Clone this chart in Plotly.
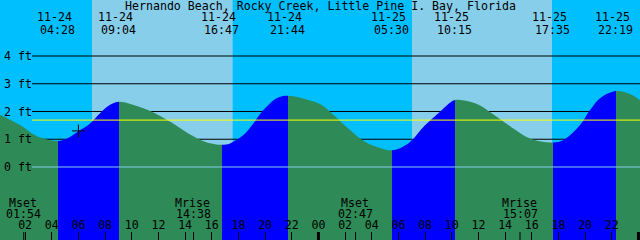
import pandas as pd
import plotly.graph_objects as go

title_text = "Hernando Beach, Rocky Creek, Little Pine I. Bay, Florida"

# Tide extremes
tide_times = ["2024-11-24 04:28", "2024-11-24 09:04", "2024-11-24 16:47", "2024-11-24 21:44",
              "2024-11-25 05:30", "2024-11-25 10:15", "2024-11-25 17:35", "2024-11-25 22:19"]
tide_ft = [0.94, 2.35, 0.80, 2.57, 0.60, 2.41, 0.88, 2.74]
tide_kind = ["low", "high", "low", "high", "low", "high", "low", "high"]

# Curve readings between extremes (hours after 2024-11-24 00:00, feet)
curve_hours = [0.10, 1.62, 2.61, 3.36, 5.12, 5.97, 6.87, 7.62, 8.37,
               10.49, 11.74, 12.99, 14.24, 15.49, 16.24,
               17.37, 18.37, 19.12, 19.87, 20.87,
               23.37, 24.12, 24.99, 26.24, 27.49, 28.74,
               30.74, 31.99, 33.12, 33.62,
               35.37, 36.12, 37.37, 38.62, 39.87,
               42.37, 43.62, 44.37, 45.12,
               47.37, 48.13]
curve_ft = [1.89, 1.51, 1.18, 1.03, 1.02, 1.28, 1.57, 1.94, 2.24,
            2.18, 1.94, 1.60, 1.21, 0.91, 0.82,
            0.85, 1.15, 1.57, 2.05, 2.48,
            2.40, 2.27, 1.94, 1.39, 0.91, 0.67,
            0.85, 1.50, 1.99, 2.22,
            2.35, 2.22, 1.81, 1.39, 1.03,
            0.97, 1.51, 2.05, 2.48,
            2.63, 2.40]

sunrise_times = ["2024-11-24 07:01", "2024-11-25 07:01"]
sunset_times = ["2024-11-24 17:34", "2024-11-25 17:31"]

moon_times = ["2024-11-24 01:54", "2024-11-24 14:38", "2024-11-25 02:47", "2024-11-25 15:07"]
moon_labels = ["Mset", "Mrise", "Mset", "Mrise"]

midnights = ["2024-11-25 00:00", "2024-11-26 00:00"]
level_ticks = [0, 1, 2, 3, 4]
mean_level_ft = 1.69
now_time = "2024-11-24 06:00"
now_ft = 1.30

view_start = "2024-11-24 00:07"
view_end = "2024-11-26 00:07"

# ---------------------------------------------------------------
BASE = pd.Timestamp("2024-11-24 00:00")
NIGHT = "#00BFFF"
DAY = "#87CEEB"
FALL = "#2E8B57"
RISE = "#0000FF"
FONT = dict(family="DejaVu Sans Mono", size=11.6, color="black")
W, H = 640, 240
YMIN, YMAX = -2.631, 6.018

tide_t = pd.to_datetime(tide_times)
curve_t = [BASE + pd.Timedelta(hours=h) for h in curve_hours]

pts = [(t, v) for t, v in zip(curve_t, curve_ft)] + [(t, v) for t, v in zip(tide_t, tide_ft)]
pts.sort(key=lambda p: p[0])
xs = [p[0] for p in pts]
ys = [p[1] for p in pts]

# horizontal gradient with hard stops: blue while rising (low -> high), green while falling
tmin, tmax = xs[0], xs[-1]
span = (tmax - tmin).total_seconds()
def frac(t):
    return min(max((t - tmin).total_seconds() / span, 0.0), 1.0)

scale = [[0.0, FALL]]
for i, k in enumerate(tide_kind):
    if k == "low" and i + 1 < len(tide_t):
        a, b = frac(tide_t[i]), frac(tide_t[i + 1])
        scale += [[a, FALL], [a, RISE], [b, RISE], [b, FALL]]
scale.append([1.0, FALL])

fig = go.Figure()
fig.add_trace(go.Scatter(x=xs, y=[YMIN - 1] * len(xs), mode="lines",
                         line=dict(width=0), showlegend=False, hoverinfo="skip"))
fig.add_trace(go.Scatter(x=xs, y=ys, mode="lines", line=dict(width=0, shape="spline", color=FALL),
                         fill="tonexty", fillgradient=dict(type="horizontal", colorscale=scale),
                         showlegend=False, hoverinfo="skip"))

fig.add_trace(go.Scatter(x=[now_time], y=[now_ft], mode="markers",
                         marker=dict(symbol="cross-thin", size=9, line=dict(width=1, color="black")),
                         showlegend=False, hoverinfo="skip"))

shapes = []
shapes.append(dict(type="rect", xref="x", yref="paper", x0=view_start, x1=view_end, y0=0, y1=1,
                   fillcolor=NIGHT, line=dict(width=0), layer="below"))
for sr, ss in zip(sunrise_times, sunset_times):
    shapes.append(dict(type="rect", xref="x", yref="paper", x0=sr, x1=ss, y0=0, y1=1,
                       fillcolor=DAY, line=dict(width=0), layer="below"))
for lv in level_ticks:
    if lv == 0:
        shapes.append(dict(type="line", xref="paper", yref="y", x0=32 / W, x1=1, y0=lv, y1=lv,
                           line=dict(color=DAY, width=1), layer="above"))
    else:
        shapes.append(dict(type="line", xref="paper", yref="y", x0=32 / W, x1=1, y0=lv, y1=lv,
                           line=dict(color="black", width=1), layer="below"))
shapes.append(dict(type="line", xref="paper", yref="y", x0=32 / W, x1=1, y0=mean_level_ft, y1=mean_level_ft,
                   line=dict(color="#FFFF00", width=1), layer="above"))
for m in midnights:
    shapes.append(dict(type="line", xref="x", yref="paper", x0=m, x1=m, y0=0, y1=8 / H,
                       line=dict(color="black", width=3), layer="above"))
for m in moon_times:
    shapes.append(dict(type="line", xref="x", yref="paper", x0=m, x1=m, y0=0, y1=8 / H,
                       line=dict(color="black", width=1), layer="above"))

ann = []
ann.append(dict(text=title_text, xref="paper", yref="paper", x=0.5, y=1 - 6 / H,
                xanchor="center", yanchor="middle", showarrow=False, font=FONT))
for t in tide_t:
    ann.append(dict(text=t.strftime("%m-%d"), xref="x", yref="paper", x=t, y=1 - 17.5 / H,
                    xanchor="center", yanchor="middle", xshift=-3.5, showarrow=False, font=FONT))
    ann.append(dict(text=t.strftime("%H:%M"), xref="x", yref="paper", x=t, y=1 - 30.2 / H,
                    xanchor="center", yanchor="middle", xshift=-0.5, showarrow=False, font=FONT))
for t, lab in zip(pd.to_datetime(moon_times), moon_labels):
    ann.append(dict(text=lab, xref="x", yref="paper", x=t, y=1 - 202.5 / H,
                    xanchor="center", yanchor="middle", xshift=-1, showarrow=False, font=FONT))
    ann.append(dict(text=t.strftime("%H:%M"), xref="x", yref="paper", x=t, y=1 - 213.5 / H,
                    xanchor="center", yanchor="middle", showarrow=False, font=FONT))

fig.update_layout(
    width=W, height=H, margin=dict(l=0, r=0, t=0, b=0, pad=0),
    paper_bgcolor=NIGHT, plot_bgcolor=NIGHT,
    shapes=shapes, annotations=ann, showlegend=False,
    xaxis=dict(type="date", range=[view_start, view_end], tickformat="%H", dtick=7200000,
               tick0="2024-11-24 00:00", ticks="inside", ticklen=8, tickwidth=1, tickcolor="black",
               ticklabelposition="inside", tickfont=FONT, showgrid=False, zeroline=False,
               showline=False),
    yaxis=dict(range=[YMIN, YMAX], tickmode="array", tickvals=level_ticks,
               ticktext=[f"{v} ft" for v in level_ticks], ticks="",
               anchor="free", position=32 / W, ticklabelstandoff=0,
               tickfont=FONT, showgrid=False, zeroline=False, showline=False),
)

fig.write_html("out.html")
